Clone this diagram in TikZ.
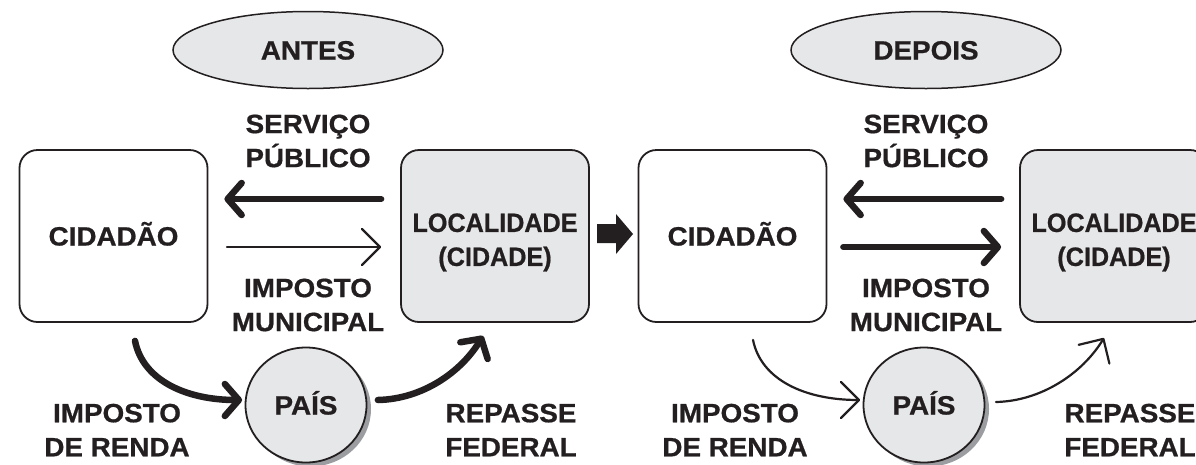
\documentclass[tikz,border=0pt]{standalone}
\usepackage{fontspec}
\setmainfont{Liberation Sans}[FakeStretch=1.05, BoldFeatures={FakeBold=0.7}]
\newfontfamily\narrowfont{Liberation Sans}[FakeStretch=0.95, BoldFeatures={FakeBold=0.7}]
\usetikzlibrary{arrows.meta,shapes.geometric,shadows}
\definecolor{ink}{HTML}{231F20}
\definecolor{pale}{HTML}{E6E7E8}
\definecolor{shade}{HTML}{9B9DA0}
\begin{document}
\begin{tikzpicture}[x=1pt,y=-1pt,
 txt/.style={font=\bfseries\fontsize{26.5}{34}\selectfont, text=ink, align=center, inner sep=0pt},
 narrowtxt/.style={txt, font=\narrowfont\bfseries\fontsize{26.5}{34}\selectfont},
 card/.style={draw=ink, line width=1.8pt, rounded corners=18pt, minimum width=188pt, minimum height=172pt, fill=white, txt, text height=19pt, text depth=0pt},
 cardgray/.style={card, fill=pale},
 oval/.style={ellipse, draw=ink, line width=1.5pt, fill=pale, minimum width=270pt, minimum height=77pt, txt, text height=19pt, text depth=0pt},
 ball/.style={ellipse, draw=ink, line width=1.8pt, fill=pale, minimum width=121pt, minimum height=115pt, txt, text height=19pt, text depth=0pt, drop shadow={shadow xshift=4.5pt, shadow yshift=-4pt, fill=shade, opacity=1}},
 heavy/.style={draw=ink, line width=6.5pt, line cap=round, -{Straight Barb[length=14pt,width=32pt,round]}},
 light/.style={draw=ink, line width=2.2pt, line cap=round, -{Straight Barb[length=18pt,width=36pt,round]}},
]
\useasboundingbox (0,0) rectangle (1196,464);

% ---------- ANTES ----------
\node[oval] (antes) at (308,50) {ANTES};
\node[card] (cidL) at (113.5,236) {CIDADÃO};
\node[cardgray] (locL) at (495,236) {};
\node[narrowtxt] (locLt) at ([yshift=-6.4pt]locL.center) {LOCALIDADE\\(CIDADE)};
\node[txt] (servL) at (308,141) {SERVIÇO\\PÚBLICO};
\node[txt] (impL) at (308,305) {IMPOSTO\\MUNICIPAL};
\node[ball] (paisL) at (306,405) {PAÍS};
\node[txt] (irL) at (117,430) {IMPOSTO\\DE RENDA};
\node[txt] (repL) at (511,430) {REPASSE\\FEDERAL};

\draw[heavy, shorten <=19pt, shorten >=16pt] ([yshift=37pt]locL.west) -- ([yshift=37pt]cidL.east);
\draw[light, shorten <=18.5pt, shorten >=19pt] ([yshift=-11pt]cidL.east) -- ([yshift=-11pt]locL.west);
\draw[heavy] ([xshift=21.5pt,yshift=-18pt]cidL.south) .. controls +(8,40) and +(-55,0) .. ([xshift=-2.5pt,yshift=5pt]paisL.west);
\draw[heavy] ([xshift=10.5pt,yshift=5pt]paisL.east) .. controls +(45,-1) and +(-22,36) .. ([xshift=-12pt,yshift=-13pt]locL.south);

% ---------- transition arrow ----------
\fill[ink] (597,224) -- (616,224) -- (616,214) -- (633,234) -- (616,254) -- (616,243) -- (597,243) -- cycle;

% ---------- DEPOIS ----------
\node[oval] (depois) at (926,50) {DEPOIS};
\node[card] (cidR) at (732.5,236) {CIDADÃO};
\node[cardgray] (locR) at (1114,236) {};
\node[narrowtxt] (locRt) at ([yshift=-6.4pt]locR.center) {LOCALIDADE\\(CIDADE)};
\node[txt] (servR) at (926,141) {SERVIÇO\\PÚBLICO};
\node[txt] (impR) at (926,305) {IMPOSTO\\MUNICIPAL};
\node[ball] (paisR) at (924,405) {PAÍS};
\node[txt] (irR) at (735,430) {IMPOSTO\\DE RENDA};
\node[txt] (repR) at (1130,430) {REPASSE\\FEDERAL};

\draw[heavy, shorten <=18pt, shorten >=16pt] ([yshift=37pt]locR.west) -- ([yshift=37pt]cidR.east);
\draw[heavy, shorten <=16pt, shorten >=18pt] ([yshift=-11pt]cidR.east) -- ([yshift=-11pt]locR.west);
\draw[light] ([xshift=20.5pt,yshift=-17pt]cidR.south) .. controls +(8,40) and +(-55,0) .. ([xshift=-2.5pt,yshift=5pt]paisR.west);
\draw[light] ([xshift=10.5pt,yshift=3pt]paisR.east) .. controls +(45,-1) and +(-22,36) .. ([xshift=-10pt,yshift=-15pt]locR.south);
\end{tikzpicture}
\end{document}
